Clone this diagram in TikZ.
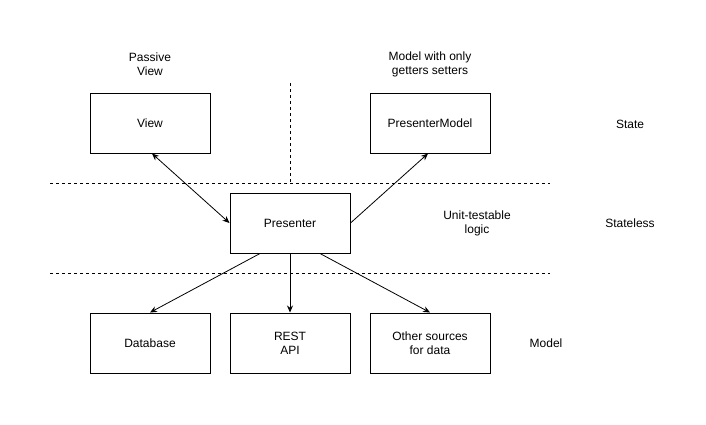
\documentclass[tikz,border=0pt]{standalone}
\usepackage{fontspec}
\setmainfont{Liberation Sans}
\usetikzlibrary{arrows.meta}
\begin{document}
\begin{tikzpicture}[x=1pt,y=-1pt,
  box/.style={draw,line width=1pt,minimum width=120pt,minimum height=60pt,inner sep=0pt,align=center,font=\fontsize{12}{14}\selectfont},
  lbl/.style={align=center,inner sep=0pt,font=\fontsize{12}{14}\selectfont},
  sep/.style={dashed,dash pattern=on 3pt off 3pt,line width=0.8pt},
  conn/.style={line width=0.8pt,-{Stealth[length=7pt,width=6pt]}},
  bconn/.style={line width=0.8pt,{Stealth[length=7pt,width=6pt]}-{Stealth[length=7pt,width=6pt]}}]
\useasboundingbox (0,0) rectangle (706,424);
\node[box] (view) at (150,123) {View};
\node[box] (pm) at (430,123) {PresenterModel};
\node[box] (pres) at (290,223) {Presenter};
\node[box] (db) at (150,343) {Database};
\node[box] (rest) at (290,343) {REST\\API};
\node[box] (other) at (430,343) {Other sources\\for data};
\node[lbl] (pv) at (150,64) {Passive\\View};
\node[lbl] (mg) at (430,64) {Model with only\\getters setters};
\node[lbl] (state) at (630,124) {State};
\node[lbl] (unit) at (477,223) {Unit-testable\\logic};
\node[lbl] (stateless) at (630,223) {Stateless};
\node[lbl] (model) at (546,343) {Model};
\coordinate (h1a) at (50,183);
\coordinate (h1b) at (550,183);
\coordinate (h2a) at (50,273);
\coordinate (h2b) at (550,273);
\coordinate (v1a) at (290,83);
\coordinate (v1b) at (290,183);
\draw[sep] (h1a) -- (h1b);
\draw[sep] (h2a) -- (h2b);
\draw[sep] (v1a) -- (v1b);
\draw[bconn] (view.south) ++(2,0) coordinate (vs) (vs) -- (pres.west);
\draw[conn] (pres.east) -- ([xshift=-2pt]pm.south);
\draw[conn] ([xshift=-30pt]pres.south) -- (db.north);
\draw[conn] (pres.south) -- (rest.north);
\draw[conn] ([xshift=30pt]pres.south) -- (other.north);
\end{tikzpicture}
\end{document}
